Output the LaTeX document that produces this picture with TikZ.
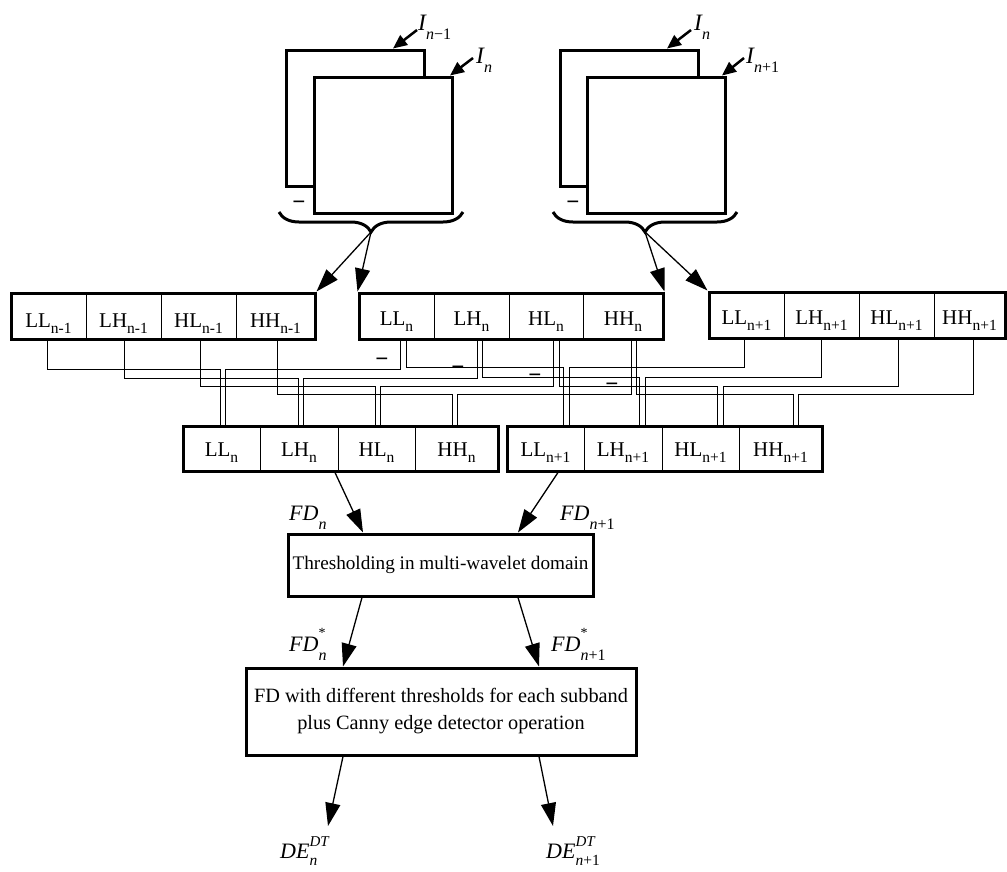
\documentclass[tikz,border=0pt]{standalone}
\usepackage{fontspec}
\setmainfont{Liberation Serif}
\usetikzlibrary{arrows.meta,decorations.pathreplacing,fit,calc}

\newcommand{\cellsb}[1]{\raisebox{-0.3em}{\fontsize{15.5}{15.5}\selectfont #1}}
\newcommand{\lsb}[1]{\raisebox{-0.42em}{\fontsize{16}{16}\selectfont #1}}
\newcommand{\lblfont}{\fontsize{23.5}{23.5}\selectfont\itshape}
\newcommand{\fdfont}{\fontsize{22}{22}\selectfont\itshape}

\tikzset{
  cellbox/.style={draw, line width=0.9pt, inner sep=0pt, outer sep=0pt,
    font=\fontsize{21}{21}\selectfont, text depth=0pt},
  rowbox/.style={draw, line width=3pt, inner sep=0pt},
  frame/.style={draw, line width=3pt, fill=white, minimum width=138pt, minimum height=136pt, inner sep=0pt},
  procbox/.style={draw, line width=3pt, inner sep=0pt, align=center},
  wire/.style={line width=1pt},
  arr/.style={line width=1.3pt, -{Triangle[length=23pt,width=15pt]}},
  larr/.style={line width=2.5pt, -{Triangle[length=14pt,width=12pt]}},
  lbl/.style={inner sep=0pt, anchor=base west},
  minus/.style={inner sep=0pt, font=\fontsize{23}{23}\selectfont\bfseries},
  brc/.style={line width=3pt, decorate, decoration={brace, amplitude=20pt, mirror}}
}

\begin{document}
\begin{tikzpicture}[x=1pt,y=-1pt]
\fill[white] (0,0) rectangle (1007,871);
\useasboundingbox (0,0) rectangle (1007,871);

% ---------- image frames ----------
\node[frame] (b1) at (355,118) {};
\node[frame] (f1) at (383,145) {};
\node[frame] (b2) at (629,118) {};
\node[frame] (f2) at (656.5,145) {};
\node[minus] (m1) at (299,205) {−};
\node[minus] (m2) at (573,205) {−};

\node[lbl] (I1) at (418,30) {\lblfont I\lsb{\itshape n\upshape−1}};
\node[lbl] (I2) at (476,63) {\lblfont I\lsb{\itshape n}};
\node[lbl] (I3) at (694,30) {\lblfont I\lsb{\itshape n}};
\node[lbl] (I4) at (746,63) {\lblfont I\lsb{\itshape n\upshape+1}};

\coordinate (s1) at (417,30);
\coordinate (s2) at (473,58);
\coordinate (s3) at (691,30);
\coordinate (s4) at (744,58);
\draw[larr] (s1) -- (b1.north -| 393,0);
\draw[larr] (s2) -- (f1.north -| 450,0);
\draw[larr] (s3) -- (b2.north -| 667,0);
\draw[larr] (s4) -- (f2.north -| 722,0);

% braces
\draw[brc] (279,212) -- (463,212);
\draw[brc] (553,212) -- (737,212);
\coordinate (t1) at (371,232);
\coordinate (t2) at (645,232);

% ---------- row 1 ----------
\begin{scope}[every node/.append style={cellbox, minimum height=46pt, text height=22pt}]
\node[minimum width=75pt] (A1) at (48.5,316) {LL\cellsb{n-1}};
\node[minimum width=75pt] (A2) at (123.5,316) {LH\cellsb{n-1}};
\node[minimum width=75pt] (A3) at (198.5,316) {HL\cellsb{n-1}};
\node[minimum width=79pt] (A4) at (275.5,316) {HH\cellsb{n-1}};
\end{scope}
\begin{scope}[every node/.append style={cellbox, minimum height=46pt, text height=19pt}]
\node[minimum width=75pt] (B1) at (396.5,316) {LL\cellsb{n}};
\node[minimum width=75pt] (B2) at (471.5,316) {LH\cellsb{n}};
\node[minimum width=74pt] (B3) at (546,316) {HL\cellsb{n}};
\node[minimum width=80pt] (B4) at (623,316) {HH\cellsb{n}};
\node[minimum width=75pt] (C1) at (746.5,315) {LL\cellsb{n+1}};
\node[minimum width=75pt] (C2) at (821.5,315) {LH\cellsb{n+1}};
\node[minimum width=75pt] (C3) at (896.5,315) {HL\cellsb{n+1}};
\node[minimum width=71pt] (C4) at (969.5,315) {HH\cellsb{n+1}};
\end{scope}
\node[rowbox, fit=(A1)(A4)] (rowA) {};
\node[rowbox, fit=(B1)(B4)] (rowB) {};
\node[rowbox, fit=(C1)(C4)] (rowC) {};

% ---------- row 2 ----------
\begin{scope}[every node/.append style={cellbox, minimum height=45pt, text height=15pt}]
\node[minimum width=77pt] (D1) at (221.5,448.5) {LL\cellsb{n}};
\node[minimum width=78pt] (D2) at (299,448.5) {LH\cellsb{n}};
\node[minimum width=77pt] (D3) at (376.5,448.5) {HL\cellsb{n}};
\node[minimum width=83pt] (D4) at (456.5,448.5) {HH\cellsb{n}};
\node[minimum width=77pt] (E1) at (545.5,448.5) {LL\cellsb{n+1}};
\node[minimum width=78pt] (E2) at (623,448.5) {LH\cellsb{n+1}};
\node[minimum width=77pt] (E3) at (700.5,448.5) {HL\cellsb{n+1}};
\node[minimum width=83pt] (E4) at (780.5,448.5) {HH\cellsb{n+1}};
\end{scope}
\node[rowbox, fit=(D1)(D4)] (rowD) {};
\node[rowbox, fit=(E1)(E4)] (rowE) {};

% brace arrows
\draw[arr] (t1) -- (rowA.north east);
\draw[arr] (t1) -- (rowB.north west);
\draw[arr] (t2) -- (rowB.north east);
\draw[arr] (t2) -- (rowC.north west);

% ---------- wiring ----------
\foreach \k/\xa/\xbl/\xbr/\xc/\xdl/\xdr/\xel/\xer/\yl/\yr in {
  1/47/400/406/744/220/225/563/569/369/367,
  2/124/477/482/821/298/303/639/645/378/377,
  3/200/553/559/898/375/380/717/723/386/386,
  4/277/631/636/973/452/457/793/798/394/394}{
  \draw[wire] (A\k.south -| \xa,0) -- (\xa,\yl) -| (D\k.north -| \xdl,0);
  \draw[wire] (B\k.south -| \xbl,0) -- (\xbl,\yl) -| (D\k.north -| \xdr,0);
  \draw[wire] (B\k.south -| \xbr,0) -- (\xbr,\yr) -| (E\k.north -| \xel,0);
  \draw[wire] (C\k.south -| \xc,0) -- (\xc,\yr) -| (E\k.north -| \xer,0);
}
\node[minus] (w1) at (382,362) {−};
\node[minus] (w2) at (458,370) {−};
\node[minus] (w3) at (535,378) {−};
\node[minus] (w4) at (612,387) {−};

% ---------- processing ----------
\node[procbox, minimum width=305pt, minimum height=62pt, font=\fontsize{19.2}{23}\selectfont] (T) at (440.5,565) {Thresholding in multi-wavelet domain};
\node[procbox, minimum width=390pt, minimum height=87pt, font=\fontsize{20.3}{27}\selectfont] (F) at (441,711.5)
  {FD with different thresholds for each subband\\plus Canny edge detector operation};

\draw[arr] (rowD.south -| 335,0) -- (T.north -| 363,0);
\draw[arr] (rowE.south -| 558,0) -- (T.north -| 518,0);
\draw[arr] (T.south -| 362,0) -- (F.north -| 343,0);
\draw[arr] (T.south -| 518,0) -- (F.north -| 539,0);
\coordinate (o1) at (328,826);
\coordinate (o2) at (553,826);
\draw[arr] (F.south -| 343,0) -- (o1);
\draw[arr] (F.south -| 539,0) -- (o2);

\node[lbl] (L1) at (289,520) {\fdfont FD\lsb{\itshape n}};
\node[lbl] (L2) at (560,520) {\fdfont FD\lsb{\itshape n\upshape+1}};
\node[lbl] (L3) at (289,651) {\fdfont FD\rlap{\raisebox{14pt}{\fontsize{14}{14}\selectfont\upshape *}}\lsb{\itshape n}};
\node[lbl] (L4) at (551,651) {\fdfont FD\rlap{\raisebox{14pt}{\fontsize{14}{14}\selectfont\upshape *}}\lsb{\itshape n\upshape+1}};
\node[lbl] (L5) at (280,858) {\fdfont DE\rlap{\raisebox{12pt}{\fontsize{15}{15}\selectfont\itshape DT}}\raisebox{-0.36em}{\fontsize{15.5}{15.5}\selectfont\itshape n}};
\node[lbl] (L6) at (546,858) {\fdfont DE\rlap{\raisebox{12pt}{\fontsize{15}{15}\selectfont\itshape DT}}\raisebox{-0.36em}{\fontsize{15.5}{15.5}\selectfont\itshape n\upshape+1}};
\end{tikzpicture}
\end{document}
